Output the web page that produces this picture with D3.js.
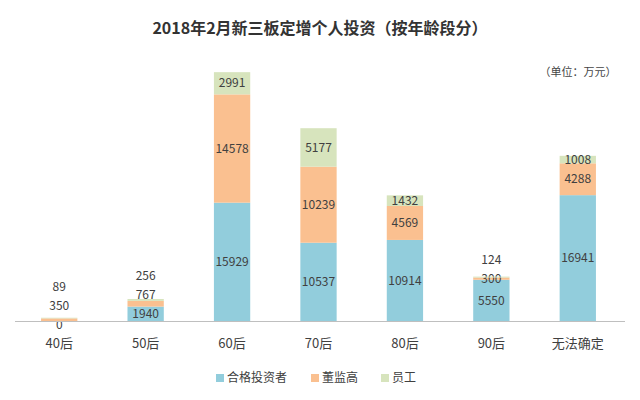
<!DOCTYPE html><html><head><meta charset="utf-8"><script src="https://cdn.jsdelivr.net/npm/d3@7"></script>
<style>body{margin:0;background:#fff}text{font-family:"Noto Sans CJK SC","Microsoft YaHei",sans-serif}</style></head><body><svg id="c" width="640" height="400"></svg>
<script>
const categories=["40后","50后","60后","70后","80后","90后","无法确定"];
const qualified=[0,1940,15929,10537,10914,5550,16941];
const management=[350,767,14578,10239,4569,300,4288];
const staff=[89,256,2991,5177,1432,124,1008];
const seriesNames=["合格投资者","董监高","员工"];
const colors=["#92cddc","#fac090","#d7e4bd"];
const svg=d3.select("#c");
const x=d3.scaleBand().domain(categories).range([16,621]).paddingInner(0.58).paddingOuter(0.29);
const y=d3.scaleLinear().domain([0,35000]).range([321,61]);
svg.append("text").attr("x",320).attr("y",34).attr("text-anchor","middle").attr("font-size",16).attr("font-weight","bold").attr("fill","#333").text("2018年2月新三板定增个人投资（按年龄段分）");
svg.append("text").attr("x",578).attr("y",76).attr("text-anchor","middle").attr("font-size",11).attr("fill","#444").text("（单位：万元）");
const series=[qualified,management,staff];
categories.forEach((c,i)=>{
  let base=0,lastY=1000;
  series.forEach((s,k)=>{
    const v=s[i];
    svg.append("rect").attr("x",x(c)).attr("width",x.bandwidth()).attr("y",y(base+v)).attr("height",y(base)-y(base+v)).attr("fill",colors[k]);
    let ly=(y(base)+y(base+v))/2;
    if(k===0&&v===0) ly=y(0)+4;
    if(ly>lastY-19) ly=lastY-19;
    lastY=ly;
    svg.append("text").attr("x",x(c)+x.bandwidth()/2).attr("y",ly).attr("dy","0.35em").attr("text-anchor","middle").attr("font-size",12).attr("fill","#404040").text(v);
    base+=v;
  });
});
svg.append("line").attr("x1",15).attr("x2",625).attr("y1",321.5).attr("y2",321.5).attr("stroke","#bfbfbf");
svg.append("g").selectAll("text").data(categories).join("text").attr("x",d=>x(d)+x.bandwidth()/2).attr("y",348).attr("text-anchor","middle").attr("font-size",13).attr("fill","#404040").text(d=>d);
const lx=[216,311,381];
seriesNames.forEach((n,k)=>{
  svg.append("rect").attr("x",lx[k]).attr("y",374).attr("width",8).attr("height",8).attr("fill",colors[k]);
  svg.append("text").attr("x",lx[k]+11).attr("y",382).attr("font-size",12).attr("fill","#404040").text(n);
});
</script></body></html>
